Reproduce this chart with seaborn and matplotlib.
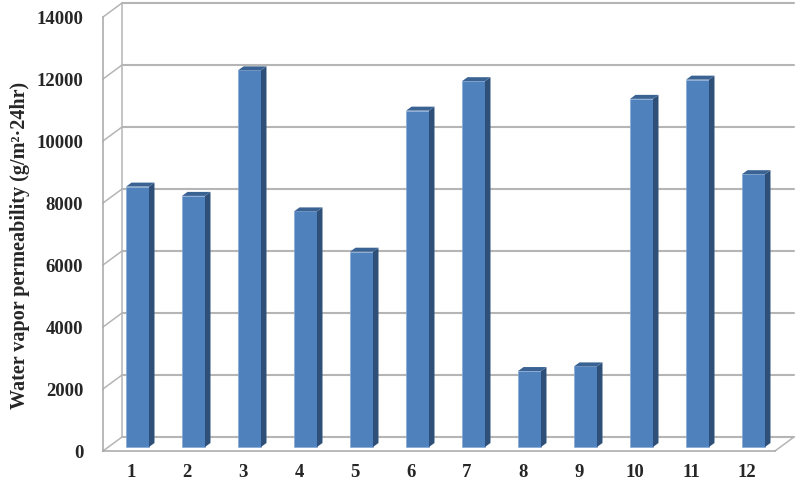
import pandas as pd
import seaborn as sns
from matplotlib import pyplot as plt
from matplotlib.patches import Polygon

# data
samples = ['1', '2', '3', '4', '5', '6', '7', '8', '9', '10', '11', '12']
wvp = [8400, 8100, 12150, 7600, 6300, 10850, 11800, 2450, 2600, 11230, 11850, 8800]
yticks = [0, 2000, 4000, 6000, 8000, 10000, 12000, 14000]

df = pd.DataFrame({'sample': samples, 'wvp': wvp})

sns.set_style('white')
plt.rcParams['font.family'] = ['Liberation Serif', 'DejaVu Serif']

fig = plt.figure(figsize=(8, 4.85), dpi=100)
ax = fig.add_axes([103 / 800, 33 / 485, 672 / 800, 434 / 485])

front = '#4F81BD'
side = '#2E4F78'
top = '#3A6393'
grid = '#B5B5B5'

sns.barplot(data=df, x='sample', y='wvp', color=front, saturation=1, width=0.41,
            edgecolor='#86A9D6', linewidth=0.5, ax=ax)

ax.set_xlim(-0.5, 11.5)
ax.set_ylim(0, 14000)

# pixel -> data units
px = 1 / 56
py = 14000 / 434
wall_dx, wall_dy = 19 * px, 14 * py      # back wall offset
bar_dx, bar_dy = 6.5 * px, 4 * py        # bar front face offset
dep_dx, dep_dy = 5.5 * px, 4 * py        # bar depth

# back wall gridlines and the diagonals to the front axis
for v in yticks:
    ax.plot([-0.5 + wall_dx, 11.5 + wall_dx], [v + wall_dy, v + wall_dy],
            color=grid, lw=1.5, clip_on=False, zorder=0)
    ax.plot([-0.5, -0.5 + wall_dx], [v, v + wall_dy], color=grid, lw=1.1,
            clip_on=False, zorder=0)
ax.plot([-0.5 + wall_dx, -0.5 + wall_dx], [wall_dy, 14000 + wall_dy],
        color=grid, lw=1.1, clip_on=False, zorder=0)
# floor right edge
ax.plot([11.5, 11.5 + wall_dx], [0, wall_dy], color=grid, lw=1.1, clip_on=False, zorder=0)

# 3D faces on each bar
for p in ax.patches[:]:
    x, w, h = p.get_x(), p.get_width(), p.get_height()
    x = x + bar_dx
    y = bar_dy
    p.set_x(x)
    p.set_y(y)
    p.set_zorder(3)
    ax.add_patch(Polygon([(x + w, y), (x + w + dep_dx, y + dep_dy),
                          (x + w + dep_dx, y + h + dep_dy), (x + w, y + h)],
                         closed=True, facecolor=side, edgecolor='none',
                         clip_on=False, zorder=3))
    ax.add_patch(Polygon([(x, y + h), (x + w, y + h),
                          (x + w + dep_dx, y + h + dep_dy), (x + dep_dx, y + h + dep_dy)],
                         closed=True, facecolor=top, edgecolor='none',
                         clip_on=False, zorder=3))
    p.set_clip_on(False)

# axes look
for s in ['top', 'right']:
    ax.spines[s].set_visible(False)
for s in ['left', 'bottom']:
    ax.spines[s].set_color('#A6A6A6')
    ax.spines[s].set_linewidth(1.1)

ax.set_yticks(yticks)
ax.set_yticklabels([str(v) for v in yticks])
ax.set_xticks(range(len(samples)))
ax.set_xticks([i - 0.5 for i in range(len(samples) + 1)], minor=True)
ax.tick_params(axis='x', which='major', length=0, pad=9)
ax.tick_params(axis='x', which='minor', length=3.6, color='#A6A6A6', width=1)
ax.tick_params(axis='y', length=4.3, color='#A6A6A6', width=1, pad=10)
for lab in ax.get_xticklabels() + ax.get_yticklabels():
    lab.set_fontweight('bold')
    lab.set_fontsize(13.5)

ax.set_xlabel('')
ax.set_ylabel('Water vapor permeability (g/m²·24hr)', fontsize=14.5, fontweight='bold')
ax.yaxis.set_label_coords(-0.108, 0.477)

fig.savefig('out.png', dpi=100)
